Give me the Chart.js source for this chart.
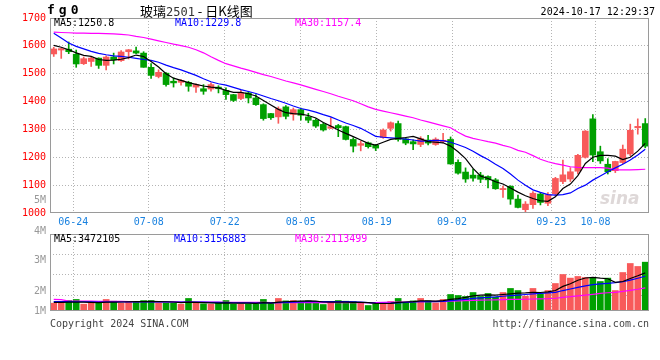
<!DOCTYPE html>
<html>
<head>
<meta charset="utf-8">
<script src="https://cdn.jsdelivr.net/npm/chart.js@4.4.1/dist/chart.umd.min.js"></script>
<style>
    body { margin: 0; background: #fff; width: 660px; height: 360px; overflow: hidden; position: relative;
           font-family: 'DejaVu Sans Mono', monospace; }
    canvas { position: absolute; left: 0; }
    .t { position: absolute; white-space: nowrap; font-size: 10px; line-height: 12px; }
    .ax { color: #999; text-align: right; width: 46px; left: 0; }
</style>
</head>
<body>
<canvas id="kChart" width="660" height="232" style="top:0"></canvas>
<canvas id="volChart" width="660" height="92" style="top:226px"></canvas>

<div class="t" style="left:47px;top:4px;font-size:13px;font-weight:bold;letter-spacing:4px;">fg0</div>
<div class="t" style="left:140px;top:3px;font-size:13px;line-height:16px;font-family:'Noto Sans CJK SC';">玻璃<span style="font-family:'DejaVu Sans Mono';font-size:12px;color:#333">2501</span> - 日K线图</div>
<div class="t" style="right:5px;top:6px;">2024-10-17 12:29:37</div>

<div class="t" style="left:54px;top:17px;color:#000">MA5:1250.8</div>
<div class="t" style="left:175px;top:17px;color:#0000ff">MA10:1229.8</div>
<div class="t" style="left:295px;top:17px;color:#ff00ff">MA30:1157.4</div>

<div class="t ax" style="top:194px">5M</div>
<div class="t ax" style="top:225px">4M</div>
<div class="t ax" style="top:254px">3M</div>
<div class="t ax" style="top:285px">2M</div>
<div class="t ax" style="top:305px">1M</div>

<div class="t" style="left:54px;top:233px;color:#000">MA5:3472105</div>
<div class="t" style="left:174px;top:233px;color:#0000ff">MA10:3156883</div>
<div class="t" style="left:295px;top:233px;color:#ff00ff">MA30:2113499</div>

<div class="t" style="left:50px;top:318px;color:#444">Copyright 2024 SINA.COM</div>
<div class="t" style="right:11px;top:318px;color:#444">http://finance.sina.com.cn</div>
<div class="t" style="left:600px;top:192px;font-family:'DejaVu Sans';font-size:17px;font-weight:bold;font-style:italic;color:rgba(200,190,190,0.6)">sina</div>

<script>
// trading days shown (06-19 .. 10-17)
const days = [
    '06-19','06-20','06-21','06-24','06-25','06-26','06-27','06-28',
    '07-01','07-02','07-03','07-04','07-05','07-08','07-09','07-10','07-11','07-12',
    '07-15','07-16','07-17','07-18','07-19','07-22','07-23','07-24','07-25','07-26',
    '07-29','07-30','07-31','08-01','08-02','08-05','08-06','08-07','08-08','08-09',
    '08-12','08-13','08-14','08-15','08-16','08-19','08-20','08-21','08-22','08-23',
    '08-26','08-27','08-28','08-29','08-30','09-02','09-03','09-04','09-05','09-06',
    '09-09','09-10','09-11','09-12','09-13','09-18','09-19','09-20',
    '09-23','09-24','09-25','09-26','09-27','09-30',
    '10-08','10-09','10-10','10-11','10-14','10-15','10-16','10-17'
];

// vertical grid line positions (in day units)
const gridPos = [2.6, 12.7, 22.85, 33.0, 43.15, 53.2, 66.45, 72.35];

// price axis
const priceTicks = [1000, 1100, 1200, 1300, 1400, 1500, 1600, 1700];

// OHLC
const open = [1571,1585,1588,1570,1536,1544,1556,1530,1560,1547,
    1579,1582,1574,1523,1490,1502,1473,1469,1469,1452,
    1446,1445,1452,1440,1425,1411,1431,1413,1389,1357,
    1345,1381,1354,1371,1345,1333,1318,1304,1314,1310,
    1264,1243,1252,1243,1271,1304,1321,1266,1256,1246,
    1262,1246,1256,1264,1182,1147,1136,1136,1131,1119,
    1084,1096,1050,1012,1030,1068,1035,1069,1113,1122,
    1150,1200,1338,1220,1175,1152,1181,1212,1306,1321];
const close = [1589,1590,1579,1535,1554,1556,1530,1560,1550,1578,
    1586,1574,1523,1494,1505,1461,1467,1476,1455,1461,
    1437,1461,1446,1425,1404,1431,1413,1389,1339,1342,
    1374,1347,1371,1351,1333,1312,1298,1310,1306,1264,
    1240,1249,1238,1233,1298,1324,1264,1251,1248,1267,
    1251,1265,1261,1176,1143,1122,1125,1121,1119,1087,
    1088,1050,1020,1032,1071,1038,1066,1124,1137,1148,
    1207,1294,1208,1187,1148,1185,1229,1297,1311,1240];
const high = [1595,1591,1614,1585,1560,1560,1557,1564,1574,1583,
    1587,1596,1579,1536,1514,1504,1485,1479,1473,1464,
    1461,1467,1457,1449,1426,1440,1437,1425,1392,1358,
    1381,1386,1377,1377,1358,1338,1324,1342,1318,1312,
    1270,1258,1255,1246,1302,1327,1330,1271,1263,1274,
    1279,1270,1286,1273,1191,1162,1158,1146,1133,1124,
    1097,1098,1064,1041,1077,1074,1073,1128,1190,1163,
    1211,1296,1353,1240,1195,1186,1244,1319,1338,1339];
const low = [1562,1555,1572,1523,1533,1526,1519,1514,1535,1544,
    1553,1572,1523,1483,1485,1455,1452,1459,1437,1433,
    1426,1437,1431,1408,1400,1407,1395,1386,1333,1336,
    1322,1338,1333,1333,1324,1307,1294,1303,1274,1262,
    1219,1223,1233,1224,1268,1294,1258,1245,1227,1238,
    1244,1243,1252,1175,1139,1110,1114,1109,1090,1085,
    1056,1031,1018,1002,1016,1029,1026,1063,1105,1113,
    1140,1197,1184,1178,1140,1145,1177,1205,1283,1234];

// price moving averages
const ma5 = [1602,1595,1586,1575,1566,1562,1551,1548,1549,1552,
    1558,1567,1562,1544,1524,1500,1484,1476,1468,1462,
    1456,1452,1449,1440,1433,1433,1428,1420,1404,1388,
    1372,1360,1357,1355,1350,1341,1325,1312,1298,1286,
    1274,1262,1250,1244,1254,1264,1268,1271,1275,1266,
    1256,1254,1252,1240,1220,1195,1160,1133,1124,1112,
    1104,1090,1075,1062,1052,1044,1042,1058,1088,1104,
    1134,1178,1200,1207,1207,1204,1192,1200,1222,1250];
const ma10 = [1645,1628,1610,1598,1589,1580,1573,1568,1564,1562,
    1559,1555,1551,1548,1541,1531,1522,1514,1504,1494,
    1482,1471,1464,1459,1451,1443,1436,1429,1420,1411,
    1403,1394,1384,1375,1369,1362,1353,1345,1334,1323,
    1314,1304,1290,1275,1272,1270,1268,1265,1262,1258,
    1259,1261,1260,1254,1245,1235,1222,1206,1192,1175,
    1160,1140,1118,1100,1083,1074,1066,1064,1066,1072,
    1088,1100,1118,1133,1148,1162,1175,1190,1208,1229];
const ma30 = [1649,1648,1647,1646,1646,1645,1645,1644,1643,1641,
    1639,1634,1630,1624,1618,1612,1606,1601,1595,1586,
    1575,1561,1548,1536,1528,1520,1513,1505,1497,1490,
    1482,1474,1467,1460,1452,1444,1436,1428,1419,1411,
    1403,1392,1381,1372,1366,1360,1354,1348,1342,1334,
    1327,1320,1313,1306,1290,1276,1268,1262,1256,1251,
    1243,1236,1225,1218,1206,1193,1184,1177,1172,1166,
    1164,1163,1163,1163,1161,1155,1155,1155,1156,1157];

// volume, millions of lots
const volume = [0.71,0.80,0.95,1.05,0.62,0.74,0.74,1.05,0.89,0.71,
    0.83,0.80,0.95,0.95,0.71,0.74,0.74,0.62,1.14,0.71,
    0.65,0.62,0.71,0.95,0.62,0.62,0.62,0.62,1.05,0.68,
    1.14,0.92,0.95,0.89,0.92,0.83,0.59,0.86,0.95,0.89,
    0.86,0.74,0.50,0.62,0.74,0.86,1.14,0.74,0.92,1.14,
    0.92,0.74,1.05,1.50,1.41,1.32,1.68,1.32,1.59,1.26,
    1.68,2.05,1.86,1.35,2.05,1.56,1.86,2.50,3.32,2.99,
    3.14,3.05,3.02,2.68,2.99,1.86,3.50,4.32,4.05,4.44];
const volMa5 = [0.78,0.78,0.80,0.82,0.80,0.78,0.76,0.80,0.80,0.82,
    0.84,0.85,0.86,0.88,0.86,0.84,0.82,0.76,0.80,0.78,
    0.76,0.74,0.72,0.74,0.72,0.72,0.72,0.70,0.76,0.72,
    0.80,0.84,0.88,0.90,0.92,0.90,0.82,0.80,0.82,0.80,
    0.78,0.78,0.76,0.70,0.68,0.70,0.78,0.82,0.86,0.92,
    0.92,0.90,0.94,1.06,1.12,1.24,1.38,1.44,1.46,1.44,
    1.50,1.56,1.62,1.64,1.70,1.68,1.74,1.86,2.24,2.48,
    2.80,3.00,3.06,2.98,2.93,2.60,2.68,2.95,3.20,3.47];
const volMa10 = [0.85,0.85,0.85,0.84,0.84,0.83,0.82,0.82,0.82,0.82,
    0.82,0.82,0.83,0.83,0.83,0.83,0.82,0.81,0.80,0.80,
    0.80,0.79,0.78,0.76,0.75,0.74,0.74,0.72,0.74,0.74,
    0.76,0.78,0.80,0.82,0.85,0.86,0.86,0.86,0.86,0.86,
    0.84,0.80,0.76,0.72,0.70,0.71,0.74,0.78,0.82,0.84,
    0.85,0.86,0.88,0.94,1.00,1.06,1.14,1.20,1.24,1.28,
    1.34,1.40,1.45,1.50,1.56,1.60,1.64,1.70,1.86,2.00,
    2.14,2.28,2.40,2.46,2.52,2.58,2.66,2.80,2.98,3.16];
const volMa30 = [1.05,1.03,0.90,0.89,0.89,0.89,0.88,0.88,0.88,0.87,
    0.85,0.84,0.84,0.84,0.83,0.83,0.83,0.82,0.81,0.81,
    0.80,0.80,0.80,0.79,0.79,0.79,0.78,0.78,0.78,0.77,
    0.77,0.77,0.77,0.76,0.76,0.76,0.76,0.75,0.75,0.76,
    0.76,0.76,0.76,0.77,0.78,0.80,0.81,0.82,0.84,0.85,
    0.86,0.87,0.88,0.90,0.92,0.94,0.96,0.98,1.00,1.01,
    1.03,1.05,1.06,1.07,1.09,1.10,1.12,1.16,1.24,1.30,
    1.38,1.45,1.52,1.60,1.66,1.70,1.78,1.88,1.98,2.11];
// volume panel grid levels
const volGrid = [1.45, 3.3, 5.15];

const UP = '#f85a5a';
const DOWN = '#00a000';
const GRID = '#b4b4b4';
const candleColor = open.map((o, i) => close[i] >= o ? UP : DOWN);

const pts = (arr) => arr.map((v, i) => ({ x: i, y: v }));

// grey box round the plot area
const framePlugin = {
    id: 'frame',
    afterDraw(chart) {
        const { ctx, chartArea: a } = chart;
        ctx.save();
        ctx.strokeStyle = '#9a9a9a';
        ctx.lineWidth = 1;
        ctx.strokeRect(Math.round(a.left) + 0.5, Math.round(a.top) + 0.5,
            Math.round(a.right - a.left) - 1, Math.round(a.bottom - a.top) - 1);
        ctx.restore();
    }
};

const lineSet = (data, color, order) => ({
    type: 'line', data, borderColor: color, borderWidth: 1.2,
    pointRadius: 0, tension: 0, order
});

const xScale = (showLabels) => ({
    type: 'linear', min: -0.5, max: 79.5, offset: false,
    afterBuildTicks: s => { s.ticks = gridPos.map(v => ({ value: v })); },
    afterFit: s => { s.height = showLabels ? 19 : 0; },
    grid: { color: GRID, drawTicks: false, offset: false },
    border: { display: false, dash: [1, 2] },
    ticks: {
        display: showLabels, autoSkip: false, maxRotation: 0, padding: 3,
        color: '#1a82e0', font: { family: 'DejaVu Sans Mono', size: 10 },
        callback: (v, i) => days[Math.round(gridPos[i])]
    }
});

function initPriceChart() {
    const ctx = document.getElementById('kChart').getContext('2d');
    new Chart(ctx, {
        type: 'bar',
        data: {
            datasets: [
                lineSet(pts(ma5), '#000000', 0),
                lineSet(pts(ma10), '#0000ff', 0),
                lineSet(pts(ma30), '#ff00ff', 0),
                {
                    data: open.map((o, i) => ({ x: i, y: [o, close[i]] })),
                    backgroundColor: candleColor, barThickness: 6, minBarLength: 1,
                    grouped: false, order: 1
                },
                {
                    data: low.map((l, i) => ({ x: i, y: [l, high[i]] })),
                    backgroundColor: candleColor, barThickness: 1,
                    grouped: false, order: 2
                }
            ]
        },
        options: {
            responsive: false, animation: false, devicePixelRatio: 1,
            layout: { padding: { left: 0, right: 11, top: 18, bottom: 0 } },
            plugins: { legend: { display: false }, tooltip: { enabled: false } },
            scales: {
                x: xScale(true),
                y: {
                    min: 1000, max: 1700,
                    afterBuildTicks: s => { s.ticks = priceTicks.map(v => ({ value: v })); },
                    afterFit: s => { s.width = 50; },
                    grid: {
                        drawTicks: false,
                        color: c => (c.tick && (c.tick.value === 1000 || c.tick.value === 1700)) ? 'rgba(0,0,0,0)' : GRID
                    },
                    border: { display: false, dash: [1, 2] },
                    ticks: {
                        color: '#ff0000', padding: 4, font: { family: 'DejaVu Sans Mono', size: 10 },
                        callback: v => String(v)
                    }
                }
            }
        },
        plugins: [framePlugin]
    });
}

function initVolumeChart() {
    const ctx = document.getElementById('volChart').getContext('2d');
    new Chart(ctx, {
        type: 'bar',
        data: {
            datasets: [
                lineSet(pts(volMa5), '#000000', 0),
                lineSet(pts(volMa10), '#0000ff', 0),
                lineSet(pts(volMa30), '#ff00ff', 0),
                {
                    data: pts(volume), backgroundColor: candleColor,
                    barThickness: 6, grouped: false, order: 1
                }
            ]
        },
        options: {
            responsive: false, animation: false, devicePixelRatio: 1,
            layout: { padding: { left: 0, right: 11, top: 8, bottom: 7 } },
            plugins: { legend: { display: false }, tooltip: { enabled: false } },
            scales: {
                x: xScale(false),
                y: {
                    min: 0, max: 7,
                    afterBuildTicks: s => { s.ticks = volGrid.map(v => ({ value: v })); },
                    afterFit: s => { s.width = 50; },
                    grid: { color: GRID, drawTicks: false },
                    border: { display: false, dash: [1, 2] },
                    ticks: { display: false }
                }
            }
        },
        plugins: [framePlugin]
    });
}

initPriceChart();
initVolumeChart();
</script>
</body>
</html>
